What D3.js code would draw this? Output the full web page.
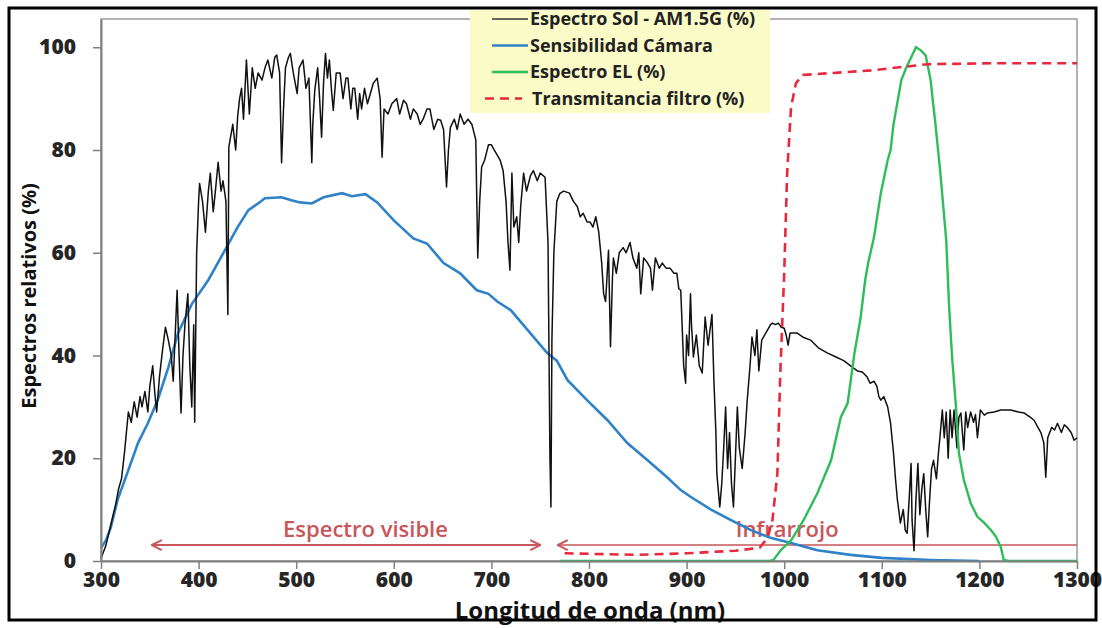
<!DOCTYPE html>
<html>
<head>
<meta charset="utf-8">
<script src="https://cdn.jsdelivr.net/npm/d3@7"></script>
<style>
    body { margin: 0; background: #fff; }
    svg { display: block; font-family: "Open Sans", sans-serif; }
</style>
</head>
<body>
<svg width="1102" height="628"></svg>
<script>
// AM1.5G solar spectrum (nm, %)
const sunNm = [300,305,310,315,318,321,324,326,328,331,334,337,340,342,345,348,350,353,355,357,360,363,366,369,372,374,376,378,380,382,384,386,389,391,393,395,396,398,400,401,404,407,410,412,415,417,420,423,425,428,430,431,435,438,440,442,444,446,449,452,455,458,461,465,468,471,475,478,480,483,485,487,489,492,494,497,501,503,507,510,513,516,517,519,522,524,526,528,530,532,534,536,538,541,545,548,551,553,556,558,560,563,565,567,570,573,576,579,583,586,588,590,594,598,603,606,610,613,617,620,624,627,630,634,637,641,645,648,651,654,656,658,662,665,668,672,676,680,684,686,688,690,693,697,700,703,706,709,712,715,717,719,721,723,726,728,730,733,736,740,743,747,750,755,758,760,761,762,764,767,770,774,780,784,788,791,794,798,801,804,807,810,813,815,817,820,822,824,825,828,831,835,838,842,845,849,851,853,856,860,863,865,868,872,875,879,883,887,890,892,894,896,897,899,900,902,904,905,907,910,913,916,919,922,926,928,930,931,934,936,938,940,942,944,946,948,950,952,954,957,960,962,965,967,970,972,974,977,980,983,986,988,991,994,997,1000,1002,1004,1006,1013,1020,1027,1035,1044,1052,1061,1068,1075,1080,1085,1088,1092,1095,1097,1099,1102,1106,1109,1112,1114,1116,1118,1119,1122,1124,1126,1128,1130,1131,1133,1135,1137,1139,1141,1143,1145,1147,1149,1151,1153,1156,1158,1160,1162,1164,1166,1168,1170,1172,1174,1177,1179,1181,1184,1186,1188,1191,1194,1196,1198,1201,1205,1208,1215,1222,1232,1240,1246,1252,1256,1260,1263,1266,1268,1270,1274,1277,1280,1284,1287,1290,1294,1297,1300];
const sunVal = [0.5,3,7,11,14,16,21,25,29,27,31,28,32,30,33,29,34,38,33,29,36,41,45.5,43,40,35,44,52.7,40,28.8,40,46,52,38,30,46,27,60,70,73.5,70,64,72,75.5,68,71.6,77.6,72,74,70,48,80.6,85,80,86.5,90,92,86,97.5,87,96,92,95,93.6,96,97.5,94,98,98.5,95,77.5,88,96,98,98.8,95,91,96,97.5,92,94,77.5,85,91.6,96,90,82.5,93,98.8,94,97.5,92,87.7,95,95,90,94,94,88,92,92,86,91,88,92,89,91,93,94,90,78.6,88,87,89,90,87,89.7,89,86,88,87,85,86,88,88,84,86,85.8,84,72.8,80,84.4,86,84,87,85,86,85,82,59,70,76.7,78,81,81,80,79,78,76,70,62,56.6,75.5,65,67,62,69,75.5,72,75,76,74,75.5,74.7,62,20,10.5,43,60,70,71.5,72,71.6,70,69,67,67.7,66,66,65,67,64,58,52,50.5,60.5,41.7,55,59,56,60,61,60,62,59,57,60,52,59,58,57,52.7,59,57,58,57,57,56,56,53,52.7,43,38,34.6,44,40,52,46,39.7,44,38,36.6,47.5,42,48,35,25,17,10.5,15,22,30,18,25,15,10.5,20,30,22,18,25,31,38,43.6,40,45,37,43,44,45,46,46.3,46,46.3,45.5,45.3,44,42,44.4,44.4,43.5,43,41.5,40.5,39.8,39,38,37,36.8,35.8,34.6,35,34,32,31.3,32,30,26.8,21,16,11.9,9,7.4,10,6,5.4,12,19,8,2,12,19,9,14,17,10,4.7,12,18,19.6,16,21,25,29.4,24,29,20,29.4,24,29.4,22,28,28.8,21.6,29,26,29,27,28.5,24,29.4,28.4,28.8,29,29.4,29.4,29,28.8,28,27.4,26,25,23,16.3,24,26,25.5,26.8,25,26.5,26,25,23.5,24];

// Camera sensitivity (nm, %)
const camNm = [300,305,310,317,328,338,348,358,369,379,393,410,427,440,451,461,468,485,495,504,516,528,547,557,571,583,600,620,634,651,668,685,697,706,720,737,757,767,778,798,819,839,860,880,894,904,925,945,966,986,1007,1034,1068,1100,1150,1200];
const camVal = [2.5,4,6.5,11.9,17.7,23,26.8,31.3,37.7,44.4,50,54.7,60.5,65,68.3,69.6,70.6,70.8,70.2,69.8,69.6,70.8,71.6,71,71.4,69.8,66.3,62.8,61.8,58,56,52.7,52,50.5,48.8,45,40.5,39,35.2,31.3,27.4,23,19.6,16.3,13.8,12.5,10,8,6,4.5,3.5,2.1,1.2,0.6,0.2,0];

// Electroluminescence spectrum (nm, %)
const elNm = [770,985,989,996,1007,1020,1034,1048,1058,1065,1072,1078,1083,1086,1092,1099,1106,1109,1112,1120,1125,1130,1135,1140,1145,1150,1155,1160,1166,1169,1172,1176,1179,1184,1191,1198,1205,1212,1217,1222,1225,1230,1300];
const elVal = [0,0,0.2,2,4,8,13.2,19.6,28,30.7,40.5,47,54.7,58,63,71.6,78,80,85,93.6,96,98,100,99.4,98.4,93.6,85,75.5,62.5,49.4,39.7,30,21,15.8,11.3,8.6,7.4,6,4.7,2.7,0.2,0,0];

// Filter transmittance (nm, %)
const filtNm = [775,850,900,950,975,983,988,993,996,1000,1003,1007,1012,1019,1050,1089,1147,1215,1300];
const filtVal = [1.5,1.2,1.5,2,2.6,4.5,8,17,36.6,56,75.5,88.3,93,94.6,95,95.5,96.7,96.9,96.9];

const xTicks = [300,400,500,600,700,800,900,1000,1100,1200,1300];
const yTicks = [0,20,40,60,80,100];

const legendLabels = ["Espectro Sol - AM1.5G (%)", "Sensibilidad Cámara", "Espectro EL (%)", "Transmitancia filtro (%)"];

// spectral regions marked under the curves (nm)
const visibleRange = [352, 750];
const irRange = [768, 1300];
const bandLevel = 3.1;

const svg = d3.select("svg");
const plot = { left: 101, right: 1077, top: 19, bottom: 561 };

const x = d3.scaleLinear().domain([300, 1300]).range([plot.left, plot.right]);
const y = d3.scaleLinear().domain([0, 105.5]).range([plot.bottom, plot.top]);

const zip = (a, b) => a.map((d, i) => [d, b[i]]);
const line = d3.line().x(d => x(d[0])).y(d => y(d[1]));

const red = "#c9565a";

svg.append("defs").selectAll("marker")
    .data(["arrowStart", "arrowEnd"])
    .join("marker")
    .attr("id", d => d)
    .attr("viewBox", "0 0 12 12")
    .attr("refX", d => d === "arrowStart" ? 1 : 11)
    .attr("refY", 6)
    .attr("markerWidth", 12)
    .attr("markerHeight", 12)
    .attr("markerUnits", "userSpaceOnUse")
    .attr("orient", "auto")
    .append("path")
    .attr("d", d => d === "arrowStart" ? "M11,1 L1,6 L11,11" : "M1,1 L11,6 L1,11")
    .attr("fill", "none")
    .attr("stroke", red)
    .attr("stroke-width", 2);

// plot frame
svg.append("rect")
    .attr("x", plot.left)
    .attr("y", plot.top)
    .attr("width", plot.right - plot.left)
    .attr("height", plot.bottom - plot.top)
    .attr("fill", "none")
    .attr("stroke", "#9a9a9a")
    .attr("stroke-width", 1.5);

// region arrows
svg.append("line")
    .attr("x1", x(visibleRange[0])).attr("x2", x(visibleRange[1]))
    .attr("y1", y(bandLevel)).attr("y2", y(bandLevel))
    .attr("stroke", red).attr("stroke-width", 2)
    .attr("marker-start", "url(#arrowStart)")
    .attr("marker-end", "url(#arrowEnd)");

svg.append("line")
    .attr("x1", x(irRange[0])).attr("x2", x(irRange[1]))
    .attr("y1", y(bandLevel)).attr("y2", y(bandLevel))
    .attr("stroke", red).attr("stroke-width", 1.5)
    .attr("marker-start", "url(#arrowStart)");

svg.append("text")
    .attr("x", x(571))
    .attr("y", y(bandLevel) - 8)
    .attr("text-anchor", "middle")
    .attr("fill", red)
    .attr("font-size", 22)
    .attr("font-weight", 600)
    .text("Espectro visible");

svg.append("text")
    .attr("x", x(1003))
    .attr("y", y(bandLevel) - 8)
    .attr("text-anchor", "middle")
    .attr("fill", red)
    .attr("font-size", 22)
    .attr("font-weight", 600)
    .text("Infrarrojo");

// series
svg.append("path")
    .datum(zip(camNm, camVal))
    .attr("d", line)
    .attr("fill", "none")
    .attr("stroke", "#2f82c8")
    .attr("stroke-width", 2.6);

svg.append("path")
    .datum(zip(sunNm, sunVal))
    .attr("d", line)
    .attr("fill", "none")
    .attr("stroke", "#111")
    .attr("stroke-width", 1.5)
    .attr("stroke-linejoin", "round");

svg.append("path")
    .datum(zip(elNm, elVal))
    .attr("d", line)
    .attr("fill", "none")
    .attr("stroke", "#2fbd5a")
    .attr("stroke-width", 2.4);

svg.append("path")
    .datum(zip(filtNm, filtVal))
    .attr("d", line)
    .attr("fill", "none")
    .attr("stroke", "#e8283c")
    .attr("stroke-width", 2.6)
    .attr("stroke-dasharray", "9,6");

// axes
const xAxis = svg.append("g")
    .attr("transform", `translate(0,${plot.bottom})`)
    .call(d3.axisBottom(x).tickValues(xTicks).tickFormat(d3.format("d")).tickSize(8).tickPadding(3).tickSizeOuter(0));

const yAxis = svg.append("g")
    .attr("transform", `translate(${plot.left},0)`)
    .call(d3.axisLeft(y).tickValues(yTicks).tickFormat(d3.format("d")).tickSize(8).tickPadding(17).tickSizeOuter(0));

[xAxis, yAxis].forEach(a => 
{
    a.select(".domain").attr("stroke", "#808080").attr("stroke-width", 2);
    a.selectAll(".tick line").attr("stroke", "#808080").attr("stroke-width", 1.5);
    a.selectAll(".tick text")
        .attr("fill", "#262626")
        .attr("font-size", 21)
        .attr("font-weight", 800)
        .attr("font-family", "'Open Sans', sans-serif");
});

svg.append("text")
    .attr("x", 590)
    .attr("y", 619)
    .attr("text-anchor", "middle")
    .attr("font-size", 24)
    .attr("font-weight", 700)
    .attr("fill", "#111")
    .text("Longitud de onda (nm)");

svg.append("text")
    .attr("transform", `translate(36,${(plot.top + plot.bottom) / 2 + 6}) rotate(-90)`)
    .attr("text-anchor", "middle")
    .attr("font-size", 20)
    .attr("font-weight", 700)
    .attr("fill", "#111")
    .text("Espectros relativos (%)");

// legend
const legend = svg.append("g").attr("transform", "translate(470,10)");

legend.append("rect")
    .attr("width", 300)
    .attr("height", 103)
    .attr("fill", "#fbfbc8");

const legendStyles = [
    { color: "#333", width: 1.3, dash: null },
    { color: "#2f82c8", width: 2.6, dash: null },
    { color: "#2fbd5a", width: 2.4, dash: null },
    { color: "#e8283c", width: 2.6, dash: "9,6" }
];

const item = legend.selectAll(".item")
    .data(legendLabels)
    .join("g")
    .attr("class", "item")
    .attr("transform", (d, i) => `translate(0,${9 + i * 26.5})`);

item.append("line")
    .attr("x1", (d, i) => i === 3 ? 15 : 22)
    .attr("x2", (d, i) => i === 3 ? 52 : 58)
    .attr("stroke", (d, i) => legendStyles[i].color)
    .attr("stroke-width", (d, i) => legendStyles[i].width)
    .attr("stroke-dasharray", (d, i) => legendStyles[i].dash);

item.append("text")
    .attr("x", (d, i) => i === 3 ? 62 : 60)
    .attr("y", 6)
    .attr("font-size", 18)
    .attr("font-weight", 700)
    .attr("fill", "#222")
    .text(d => d);

// outer border
svg.append("rect")
    .attr("x", 9)
    .attr("y", 8)
    .attr("width", 1087)
    .attr("height", 612)
    .attr("fill", "none")
    .attr("stroke", "#000")
    .attr("stroke-width", 3);
</script>
</body>
</html>
